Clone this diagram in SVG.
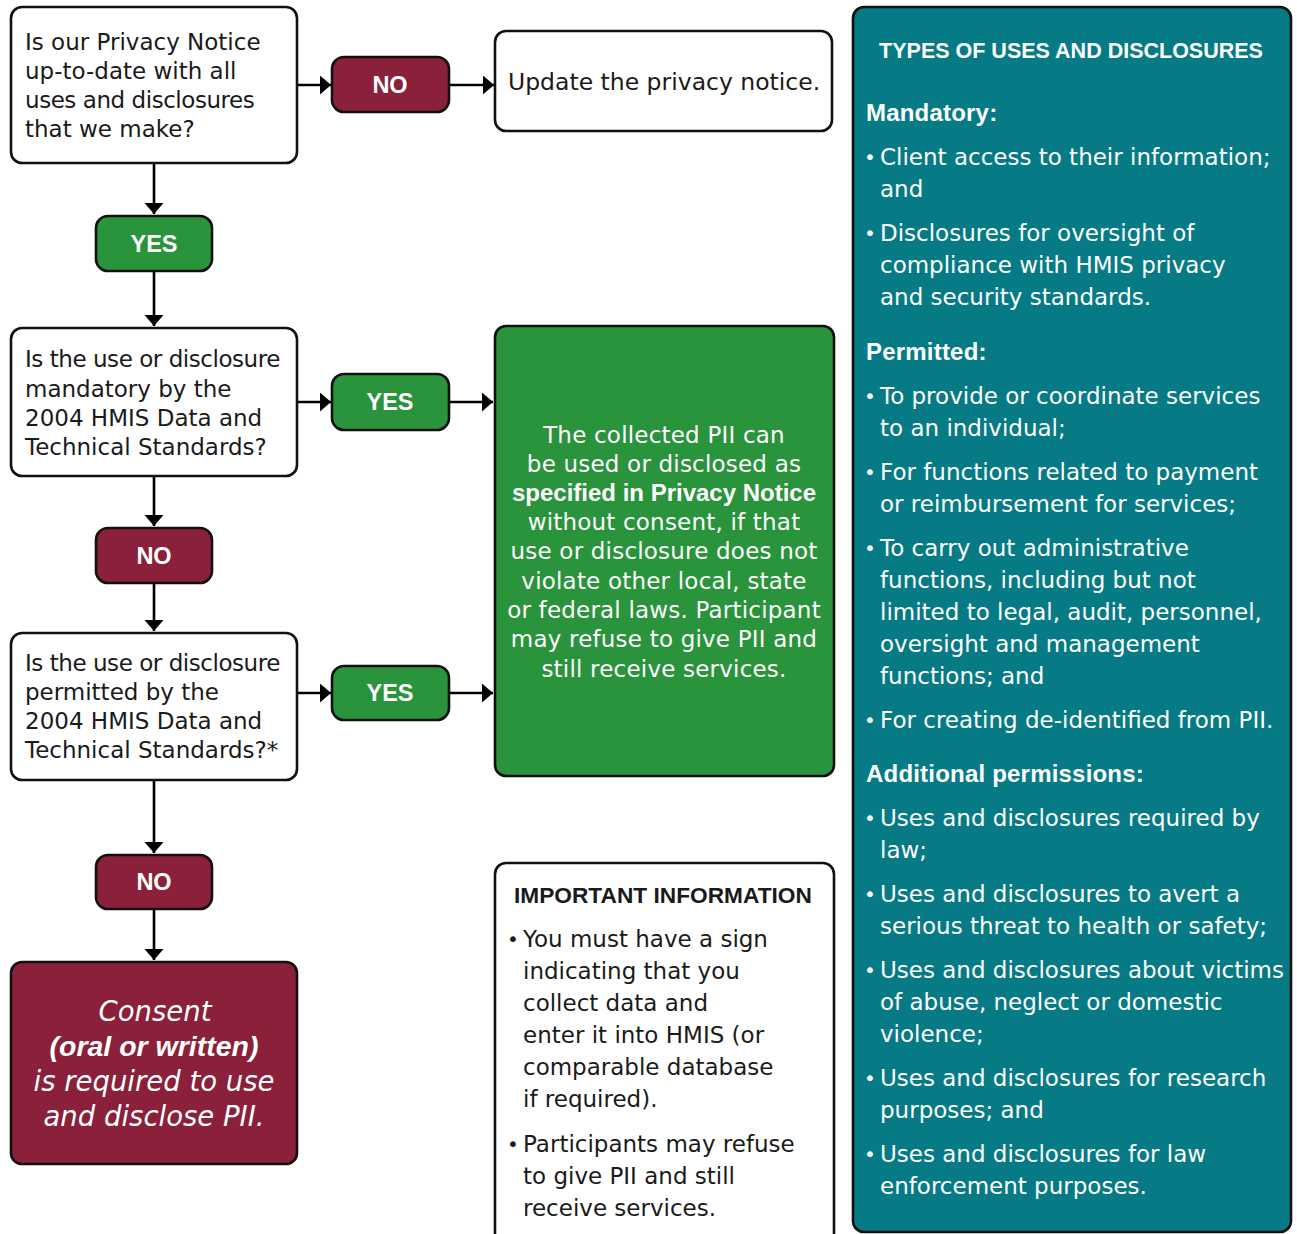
<svg xmlns="http://www.w3.org/2000/svg" width="1297" height="1234" viewBox="0 0 1297 1234">
<style>
.box{fill:#fff;stroke:#111;stroke-width:2.6}
.no{fill:#8A2039;stroke:#111;stroke-width:2.6}
.yes{fill:#2A943C;stroke:#111;stroke-width:2.6}
.teal{fill:#067A85;stroke:#111;stroke-width:2.6}
.conn{stroke:#000;stroke-width:2.6;fill:none;marker-end:url(#ah)}
.t{font-family:"DejaVu Sans",sans-serif;font-size:23px;fill:#1a1a1a}
.tn{letter-spacing:-0.45px}
.badge{font-family:"Liberation Sans",Arial,sans-serif;font-weight:bold;font-size:23.5px;fill:#fff;text-anchor:middle}
.gt{font-family:"DejaVu Sans",sans-serif;font-size:23px;fill:#fff;text-anchor:middle;letter-spacing:0.2px}
.gb{font-family:"Liberation Sans",Arial,sans-serif;font-weight:bold;font-size:24px;fill:#fff;text-anchor:middle}
.w{font-family:"DejaVu Sans",sans-serif;font-size:23px;fill:#fff}
.wb{font-family:"Liberation Sans",Arial,sans-serif;font-weight:bold;font-size:24px;fill:#fff;letter-spacing:0.2px}
.bul{font-family:"DejaVu Sans",sans-serif;font-size:20px}
.ci{font-family:"DejaVu Sans",sans-serif;font-style:italic;font-size:27.5px;fill:#fff;text-anchor:middle}
.cib{font-family:"Liberation Sans",Arial,sans-serif;font-style:italic;font-weight:bold;font-size:28.5px;fill:#fff;text-anchor:middle}
</style>
<defs>
<marker id="ah" markerUnits="userSpaceOnUse" markerWidth="12" markerHeight="20" refX="11" refY="9.5" orient="auto">
<path d="M0,0 L11,9.5 L0,19 Z" fill="#000"/>
</marker>
</defs>

<g id="connectors">
<line class="conn" x1="297" y1="85" x2="331" y2="85"/>
<line class="conn" x1="449" y1="85" x2="494" y2="85"/>
<line class="conn" x1="154" y1="163" x2="154" y2="214"/>
<line class="conn" x1="154" y1="271" x2="154" y2="326"/>
<line class="conn" x1="297" y1="402" x2="331" y2="402"/>
<line class="conn" x1="449" y1="402" x2="493" y2="402"/>
<line class="conn" x1="154" y1="476" x2="154" y2="526"/>
<line class="conn" x1="154" y1="583" x2="154" y2="631"/>
<line class="conn" x1="297" y1="693" x2="331" y2="693"/>
<line class="conn" x1="449" y1="693" x2="493" y2="693"/>
<line class="conn" x1="154" y1="780" x2="154" y2="853"/>
<line class="conn" x1="154" y1="909" x2="154" y2="960"/>
</g>

<g id="q1">
<rect class="box" x="11" y="7" width="286" height="156" rx="11"/>
<text class="t" x="25" y="50">Is our Privacy Notice</text>
<text class="t" x="25" y="79">up-to-date with all</text>
<text class="t tn" x="25" y="108">uses and disclosures</text>
<text class="t" x="25" y="137">that we make?</text>
</g>

<g id="no1">
<rect class="no" x="332" y="57" width="117" height="55" rx="12"/>
<text class="badge" x="390" y="93">NO</text>
</g>

<g id="update">
<rect class="box" x="495" y="31" width="337" height="100" rx="11"/>
<text class="t" x="508" y="90" style="font-size:23.5px">Update the privacy notice.</text>
</g>

<g id="yes1">
<rect class="yes" x="96" y="216" width="116" height="55" rx="12"/>
<text class="badge" x="154" y="252">YES</text>
</g>

<g id="q2">
<rect class="box" x="11" y="328" width="286" height="148" rx="11"/>
<text class="t tn" x="25" y="367">Is the use or disclosure</text>
<text class="t" x="25" y="397">mandatory by the</text>
<text class="t" x="25" y="426">2004 HMIS Data and</text>
<text class="t" x="25" y="455">Technical Standards?</text>
</g>

<g id="yes2">
<rect class="yes" x="332" y="374" width="117" height="56" rx="12"/>
<text class="badge" x="390" y="410">YES</text>
</g>

<g id="result-green">
<rect class="yes" x="495" y="326" width="339" height="450" rx="11"/>
<text class="gt" x="664" y="443">The collected PII can</text>
<text class="gt" x="664" y="472">be used or disclosed as</text>
<text class="gb" x="664" y="501">specified in Privacy Notice</text>
<text class="gt" x="664" y="530">without consent, if that</text>
<text class="gt" x="664" y="559">use or disclosure does not</text>
<text class="gt" x="664" y="589">violate other local, state</text>
<text class="gt" x="664" y="618">or federal laws. Participant</text>
<text class="gt" x="664" y="647">may refuse to give PII and</text>
<text class="gt" x="664" y="677">still receive services.</text>
</g>

<g id="no2">
<rect class="no" x="96" y="528" width="116" height="55" rx="12"/>
<text class="badge" x="154" y="564">NO</text>
</g>

<g id="q3">
<rect class="box" x="11" y="633" width="286" height="147" rx="11"/>
<text class="t tn" x="25" y="671">Is the use or disclosure</text>
<text class="t" x="25" y="700">permitted by the</text>
<text class="t" x="25" y="729">2004 HMIS Data and</text>
<text class="t" x="25" y="758">Technical Standards?*</text>
</g>

<g id="yes3">
<rect class="yes" x="332" y="666" width="117" height="54" rx="12"/>
<text class="badge" x="390" y="701">YES</text>
</g>

<g id="no3">
<rect class="no" x="96" y="855" width="116" height="54" rx="12"/>
<text class="badge" x="154" y="890">NO</text>
</g>

<g id="consent">
<rect class="no" x="11" y="962" width="286" height="202" rx="11"/>
<text class="ci" x="155" y="1021">Consent</text>
<text class="cib" x="154" y="1056">(oral or written)</text>
<text class="ci" x="154" y="1091">is required to use</text>
<text class="ci" x="154" y="1126">and disclose PII.</text>
</g>

<g id="important">
<rect class="box" x="495" y="863" width="339" height="390" rx="11"/>
<text x="514" y="903" style="font-family:'Liberation Sans',Arial,sans-serif;font-weight:bold;font-size:22.7px;fill:#1a1a1a">IMPORTANT INFORMATION</text>
<text class="bul" x="507" y="946" fill="#1a1a1a">•</text>
<text class="t" x="523" y="947">You must have a sign</text>
<text class="t" x="523" y="979">indicating that you</text>
<text class="t" x="523" y="1011">collect data and</text>
<text class="t" x="523" y="1043">enter it into HMIS (or</text>
<text class="t" x="523" y="1075">comparable database</text>
<text class="t" x="523" y="1107">if required).</text>
<text class="bul" x="507" y="1151" fill="#1a1a1a">•</text>
<text class="t" x="523" y="1152">Participants may refuse</text>
<text class="t" x="523" y="1184">to give PII and still</text>
<text class="t" x="523" y="1216">receive services.</text>
</g>

<g id="types">
<rect class="teal" x="853" y="7" width="438" height="1225" rx="11"/>
<text x="1071" y="58" text-anchor="middle" style="font-family:'Liberation Sans',Arial,sans-serif;font-weight:bold;font-size:21.5px;fill:#fff">TYPES OF USES AND DISCLOSURES</text>
<text class="wb" x="866" y="121">Mandatory:</text>
<text class="bul" x="864" y="164" fill="#fff">•</text>
<text class="w" x="880" y="165">Client access to their information;</text>
<text class="w" x="880" y="197">and</text>
<text class="bul" x="864" y="240" fill="#fff">•</text>
<text class="w" x="880" y="241">Disclosures for oversight of</text>
<text class="w" x="880" y="273">compliance with HMIS privacy</text>
<text class="w" x="880" y="305">and security standards.</text>
<text class="wb" x="866" y="360">Permitted:</text>
<text class="bul" x="864" y="403" fill="#fff">•</text>
<text class="w" x="880" y="404">To provide or coordinate services</text>
<text class="w" x="880" y="436">to an individual;</text>
<text class="bul" x="864" y="479" fill="#fff">•</text>
<text class="w" x="880" y="480">For functions related to payment</text>
<text class="w" x="880" y="512">or reimbursement for services;</text>
<text class="bul" x="864" y="555" fill="#fff">•</text>
<text class="w" x="880" y="556">To carry out administrative</text>
<text class="w" x="880" y="588">functions, including but not</text>
<text class="w" x="880" y="620">limited to legal, audit, personnel,</text>
<text class="w" x="880" y="652">oversight and management</text>
<text class="w" x="880" y="684">functions; and</text>
<text class="bul" x="864" y="727" fill="#fff">•</text>
<text class="w" x="880" y="728">For creating de-identified from PII.</text>
<text class="wb" x="866" y="782">Additional permissions:</text>
<text class="bul" x="864" y="825" fill="#fff">•</text>
<text class="w" x="880" y="826">Uses and disclosures required by</text>
<text class="w" x="880" y="858">law;</text>
<text class="bul" x="864" y="901" fill="#fff">•</text>
<text class="w" x="880" y="902">Uses and disclosures to avert a</text>
<text class="w" x="880" y="934">serious threat to health or safety;</text>
<text class="bul" x="864" y="977" fill="#fff">•</text>
<text class="w" x="880" y="978">Uses and disclosures about victims</text>
<text class="w" x="880" y="1010">of abuse, neglect or domestic</text>
<text class="w" x="880" y="1042">violence;</text>
<text class="bul" x="864" y="1085" fill="#fff">•</text>
<text class="w" x="880" y="1086">Uses and disclosures for research</text>
<text class="w" x="880" y="1118">purposes; and</text>
<text class="bul" x="864" y="1161" fill="#fff">•</text>
<text class="w" x="880" y="1162">Uses and disclosures for law</text>
<text class="w" x="880" y="1194">enforcement purposes.</text>
</g>
</svg>
